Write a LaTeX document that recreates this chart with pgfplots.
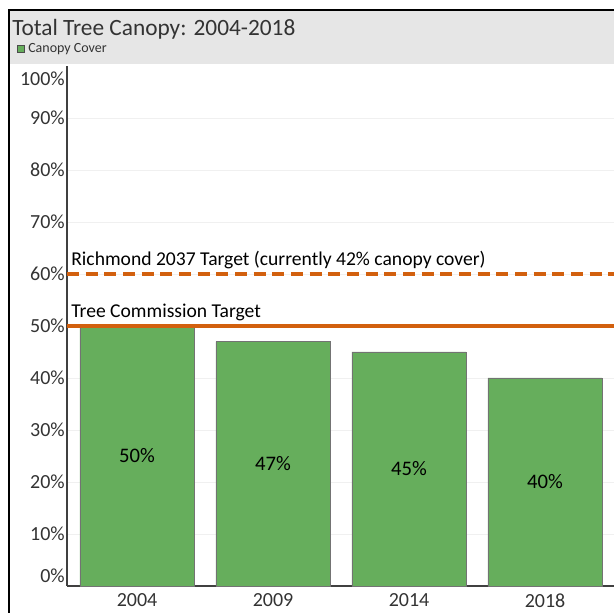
\documentclass[border=0pt]{standalone}
\usepackage{pgfplots}
\usepackage{pgfplotstable}
\pgfplotsset{compat=1.18}
\usepackage{fontspec}
\setmainfont{Carlito}

\definecolor{barGreen}{HTML}{66AE5C}
\definecolor{targetOrange}{HTML}{D2600E}
\definecolor{bandGray}{HTML}{E6E6E6}
\definecolor{txt}{HTML}{333333}

\pgfplotstableread{
x v
0 50
1 47
2 45
3 40
}\canopy

\begin{document}
\begin{tikzpicture}[x=0.75pt,y=0.75pt]
\path[use as bounding box] (0,0) rectangle (614,613);
% title band and frame
\fill[bandGray] (9,549) rectangle (614,603);
\draw[black,line width=1.5pt] (9,0) -- (9,603) -- (614,603);
\node[anchor=base west, inner sep=0pt, font=\fontsize{17.5}{20}\selectfont, text=txt] at (12,577) {Total Tree Canopy: 2004-2018};
\draw[fill=barGreen, draw=black!70, line width=0.4pt] (17,560.5) rectangle (24,567.5);
\node[anchor=west, inner sep=0pt, font=\fontsize{10.5}{12}\selectfont, text=txt] at (28,563.5) {Canopy Cover};

\begin{axis}[
    at={(50.25pt,20.25pt)}, anchor=south west,
    scale only axis,
    width=410.25pt, height=390pt,
    xmin=-0.515, xmax=3.507,
    ymin=0, ymax=100,
    axis lines*=left,
    axis line style={black!75, line width=0.8pt},
    xtick={0,1,2,3},
    xticklabels={2004,2009,2014,2018},
    ytick={10,20,...,90},
    yticklabels={10\%,20\%,30\%,40\%,50\%,60\%,70\%,80\%,90\%},
    major tick length=0pt,
    ticklabel style={font=\fontsize{15}{17}\selectfont, text=txt},
    yticklabel style={inner sep=1.5pt},
    xticklabel style={yshift=-2pt},
    ymajorgrids,
    grid style={black!6, line width=0.5pt},
    clip=false,
]
\addplot[ybar, bar width=0.84, fill=barGreen, draw=black!55, line width=0.5pt]
    table[x=x, y=v] {\canopy};
\addplot[draw=none, mark=none,
    point meta=\thisrow{v},
    nodes near coords={\pgfmathprintnumber[assume math mode=true]{\pgfplotspointmeta}\%},
    nodes near coords style={anchor=center, font=\fontsize{15.5}{17}\selectfont, text=black}]
    table[x=x, y expr=\thisrow{v}/2] {\canopy};
\addplot[targetOrange, line width=2.3pt, dash pattern=on 9pt off 5pt] coordinates {(-0.515,60) (3.507,60)};
\addplot[targetOrange, line width=2.3pt] coordinates {(-0.515,50) (3.507,50)};
\node[anchor=south west, inner sep=0pt, yshift=3.5pt, font=\fontsize{14.7}{17}\selectfont, text=black] at (axis cs:-0.485,60) {Richmond 2037 Target (currently 42\% canopy cover)};
\node[anchor=south west, inner sep=0pt, yshift=3.5pt, font=\fontsize{14.7}{17}\selectfont, text=black] at (axis cs:-0.485,50) {Tree Commission Target};
% end tick labels sit inside the plot range, as in the reference
\node[anchor=east, inner sep=1.5pt, yshift=7.5pt, font=\fontsize{15}{17}\selectfont, text=txt] at (axis cs:-0.515,0) {0\%};
\node[anchor=east, inner sep=1.5pt, yshift=-9.75pt, font=\fontsize{15}{17}\selectfont, text=txt] at (axis cs:-0.515,100) {100\%};
\end{axis}
\end{tikzpicture}
\end{document}
